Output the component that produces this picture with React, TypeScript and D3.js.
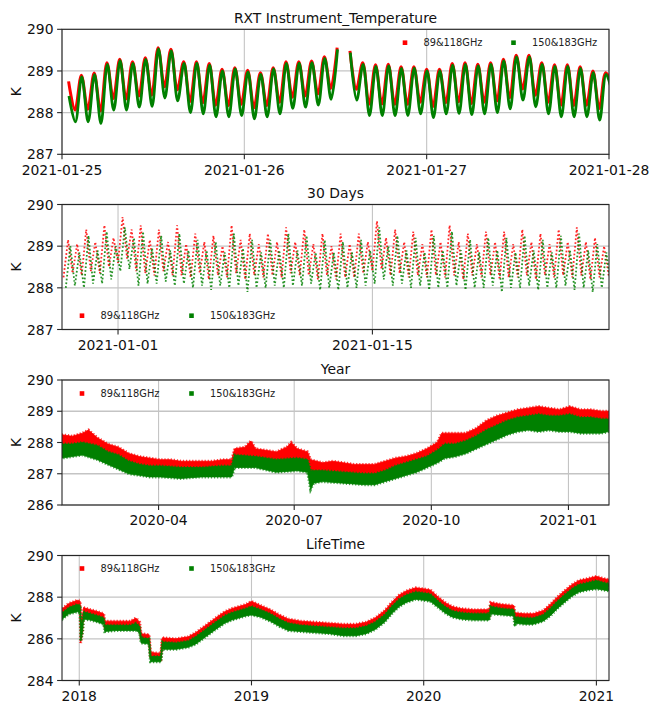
import React from "react";
import * as d3 from "d3";

const WIDTH = 650;
const HEIGHT = 704;
const PLOT_LEFT = 62;
const PLOT_RIGHT = 609;
const PLOT_H = 125;
const PANEL_TOPS = [29.3, 204.5, 380, 555.5];

const RED = "#ff0000";
const GREEN = "#008000";
const FONT = "'DejaVu Sans', sans-serif";

const SERIES_NAMES = ["89&118GHz", "150&183GHz"];
const PANEL_TITLES = ["RXT Instrument_Temperature", "30 Days", "Year", "LifeTime"];

// ---- Panel 1: three days, orbit-by-orbit extremes ----
const P1_DOMAIN = ["2021-01-25", "2021-01-28"];
const P1_TICKS = ["2021-01-25", "2021-01-26", "2021-01-27", "2021-01-28"];
const P1_RED_START = "2021-01-25T00:52:00Z";
const P1_GREEN_START = "2021-01-25T00:55:00Z";
const P1_HALF_ORBIT_MIN = 50.5;
const P1_RED_FIRST = 288.75;
const P1_RED_LAST = 288.7;
const P1_GREEN_FIRST = 288.4;
const P1_GREEN_LAST = 288.45;
const P1_RED_PEAKS = [
  288.9, 288.95, 289.2, 289.28, 289.22, 289.32, 289.56, 289.52, 289.22, 289.22,
  289.18, 289.04, 289.08, 289.02, 288.96, 289.08, 289.22, 289.22, 289.24, 289.34,
  289.56, 289.48, 289.2, 289.15, 289.16, 289.1, 289.1, 289.04, 289.04, 289.18,
  289.2, 289.16, 289.2, 289.28, 289.38, 289.38, 289.2, 289.15, 289.15, 289.1,
  289.0, 288.96,
];
const P1_RED_TROUGHS = [
  288.06, 288.08, 288.04, 288.34, 288.33, 288.4, 288.42, 288.62, 288.55, 288.27,
  288.24, 288.18, 288.17, 288.2, 288.12, 288.17, 288.25, 288.37, 288.4, 288.45,
  288.58, null, 288.56, 288.2, 288.21, 288.2, 288.2, 288.25, 288.15, 288.24,
  288.26, 288.22, 288.25, 288.28, 288.36, 288.57, 288.42, 288.25, 288.18, 288.17,
  288.18, 288.1,
];
const P1_GREEN_PEAKS = [
  288.86, 288.91, 289.16, 289.25, 289.18, 289.28, 289.53, 289.48, 289.18, 289.19,
  289.14, 289.0, 289.05, 288.98, 288.92, 289.05, 289.18, 289.19, 289.2, 289.3,
  289.52, 289.44, 289.16, 289.11, 289.12, 289.06, 289.07, 289.0, 289.0, 289.14,
  289.16, 289.12, 289.16, 289.24, 289.34, 289.34, 289.16, 289.11, 289.11, 289.06,
  288.96, 288.92,
];
const P1_GREEN_TROUGHS = [
  287.78, 287.78, 287.74, 288.06, 288.06, 288.13, 288.15, 288.35, 288.28, 288.0,
  287.97, 287.9, 287.9, 287.93, 287.85, 287.9, 287.97, 288.1, 288.13, 288.18,
  288.32, null, 288.3, 287.93, 287.93, 287.93, 287.93, 287.97, 287.88, 287.97,
  287.98, 287.95, 287.97, 288.0, 288.09, 288.3, 288.14, 287.97, 287.9, 287.9,
  287.9, 287.82,
];

// ---- Panel 2: thirty days, alternating low / high samples every 6 h ----
const P2_DOMAIN = ["2020-12-28T22:00:00Z", "2021-01-28T00:30:00Z"];
const P2_TICKS = ["2021-01-01", "2021-01-15"];
const P2_RED_START = "2020-12-29T00:00:00Z";
const P2_GREEN_START = "2020-12-29T03:00:00Z";
const P2_STEP_H = 6;
const P2_RED = [
  288.25, 289.15, 288.35, 289.05, 288.3, 289.4, 288.4, 289.1, 288.35, 289.5, 288.5, 289.2,
  288.6, 289.7, 288.7, 289.4, 288.4, 289.5, 288.35, 289.15, 288.3, 289.4, 288.4, 289.1,
  288.3, 289.5, 288.3, 289.05, 288.25, 289.3, 288.35, 289.1, 288.2, 289.25, 288.3, 289.0,
  288.25, 289.5, 288.35, 289.15, 288.2, 289.3, 288.3, 289.05, 288.25, 289.3, 288.3, 289.1,
  288.25, 289.45, 288.35, 289.1, 288.3, 289.4, 288.3, 289.05, 288.2, 289.3, 288.3, 289.0,
  288.2, 289.3, 288.25, 289.05, 288.25, 289.3, 288.35, 289.1, 288.4, 289.6, 288.45, 289.2,
  288.3, 289.4, 288.35, 289.1, 288.25, 289.35, 288.3, 289.05, 288.25, 289.4, 288.3, 289.1,
  288.25, 289.5, 288.3, 289.1, 288.2, 289.3, 288.3, 289.05, 288.25, 289.35, 288.3, 289.1,
  288.2, 289.35, 288.25, 289.05, 288.25, 289.4, 288.3, 289.1, 288.2, 289.3, 288.3, 289.05,
  288.25, 289.4, 288.3, 289.1, 288.25, 289.45, 288.3, 289.1, 288.2, 289.2, 288.25, 289.0,
  288.3,
];
const P2_GREEN = [
  288.0, 289.0, 288.05, 288.85, 288.0, 289.25, 288.1, 288.9, 288.1, 289.35, 288.2, 289.0,
  288.4, 289.45, 288.45, 289.2, 288.05, 289.35, 288.1, 288.95, 288.1, 289.25, 288.15, 288.9,
  288.05, 289.3, 288.1, 288.9, 288.0, 289.15, 288.05, 288.9, 287.95, 289.1, 288.05, 288.85,
  288.0, 289.3, 288.05, 288.95, 287.9, 289.15, 288.0, 288.85, 288.0, 289.15, 288.05, 288.9,
  288.0, 289.3, 288.05, 288.9, 288.05, 289.25, 288.1, 288.85, 287.95, 289.15, 288.0, 288.85,
  287.95, 289.1, 288.0, 288.85, 288.0, 289.15, 288.05, 288.9, 288.1, 289.45, 288.2, 289.0,
  288.05, 289.25, 288.1, 288.9, 288.0, 289.2, 288.05, 288.85, 287.95, 289.25, 288.0, 288.9,
  288.0, 289.35, 288.05, 288.9, 287.95, 289.15, 288.0, 288.85, 288.0, 289.2, 288.05, 288.9,
  287.9, 289.2, 288.0, 288.85, 288.0, 289.25, 288.05, 288.9, 287.95, 289.15, 288.0, 288.85,
  288.0, 289.25, 288.05, 288.9, 287.95, 289.3, 288.0, 288.9, 287.9, 289.05, 288.0, 288.85,
  288.05,
];

// ---- Panel 3: one year, [date, low, high] of each band ----
const P3_DOMAIN = ["2020-01-27T05:00:00Z", "2021-01-28T05:00:00Z"];
const P3_TICKS = ["2020-04-01", "2020-07-01", "2020-10-01", "2021-01-01"];
const P3_RED: [string, number, number][] = [
  ["2020-01-27", 287.75, 288.25], ["2020-02-03", 287.8, 288.2], ["2020-02-10", 287.85, 288.3],
  ["2020-02-14", 287.8, 288.4], ["2020-02-20", 287.7, 288.15], ["2020-02-27", 287.6, 287.95],
  ["2020-03-05", 287.45, 287.85], ["2020-03-12", 287.3, 287.65], ["2020-03-19", 287.2, 287.55],
  ["2020-03-26", 287.15, 287.5], ["2020-04-02", 287.1, 287.45], ["2020-04-09", 287.1, 287.45],
  ["2020-04-16", 287.1, 287.4], ["2020-04-23", 287.05, 287.4], ["2020-04-30", 287.1, 287.4],
  ["2020-05-07", 287.05, 287.4], ["2020-05-14", 287.1, 287.45], ["2020-05-20", 287.1, 287.45],
  ["2020-05-22", 287.45, 287.8], ["2020-05-29", 287.45, 287.85], ["2020-06-02", 287.4, 288.05],
  ["2020-06-05", 287.4, 287.8], ["2020-06-12", 287.35, 287.75], ["2020-06-19", 287.3, 287.7],
  ["2020-06-26", 287.35, 287.85], ["2020-06-29", 287.35, 288.0], ["2020-07-03", 287.35, 287.8],
  ["2020-07-10", 287.3, 287.7], ["2020-07-12", 286.9, 287.45], ["2020-07-20", 286.9, 287.35],
  ["2020-07-27", 286.95, 287.4], ["2020-08-03", 286.9, 287.35], ["2020-08-10", 286.85, 287.3],
  ["2020-08-17", 286.85, 287.3], ["2020-08-24", 286.85, 287.3], ["2020-08-31", 286.95, 287.4],
  ["2020-09-07", 287.05, 287.5], ["2020-09-14", 287.15, 287.55], ["2020-09-21", 287.25, 287.65],
  ["2020-09-28", 287.4, 287.8], ["2020-10-05", 287.6, 288.0], ["2020-10-08", 287.75, 288.3],
  ["2020-10-17", 287.8, 288.3], ["2020-10-24", 287.85, 288.3], ["2020-10-31", 288.0, 288.45],
  ["2020-11-07", 288.2, 288.7], ["2020-11-14", 288.35, 288.85], ["2020-11-21", 288.5, 288.95],
  ["2020-11-28", 288.55, 289.05], ["2020-12-05", 288.6, 289.1], ["2020-12-12", 288.6, 289.15],
  ["2020-12-19", 288.6, 289.1], ["2020-12-26", 288.55, 289.05], ["2021-01-02", 288.6, 289.15],
  ["2021-01-09", 288.55, 289.05], ["2021-01-16", 288.5, 289.05], ["2021-01-23", 288.5, 289.0],
  ["2021-01-28", 288.5, 289.0],
];
const P3_GREEN: [string, number, number][] = [
  ["2020-01-27", 287.5, 287.95], ["2020-02-03", 287.55, 287.95], ["2020-02-10", 287.6, 288.0],
  ["2020-02-20", 287.45, 287.9], ["2020-02-27", 287.3, 287.7], ["2020-03-05", 287.15, 287.6],
  ["2020-03-12", 287.0, 287.4], ["2020-03-19", 286.95, 287.3], ["2020-03-26", 286.9, 287.25],
  ["2020-04-02", 286.9, 287.25], ["2020-04-16", 286.85, 287.2], ["2020-04-30", 286.9, 287.2],
  ["2020-05-14", 286.9, 287.25], ["2020-05-20", 286.9, 287.25], ["2020-05-22", 287.2, 287.6],
  ["2020-06-05", 287.2, 287.55], ["2020-06-19", 287.05, 287.45], ["2020-07-03", 287.1, 287.5],
  ["2020-07-10", 287.05, 287.45], ["2020-07-12", 286.5, 287.1], ["2020-07-14", 286.7, 287.1],
  ["2020-07-20", 286.75, 287.1], ["2020-08-03", 286.7, 287.05], ["2020-08-17", 286.65, 287.0],
  ["2020-08-24", 286.65, 287.0], ["2020-08-31", 286.75, 287.1], ["2020-09-07", 286.85, 287.25],
  ["2020-09-14", 286.95, 287.35], ["2020-09-21", 287.05, 287.45], ["2020-09-28", 287.2, 287.55],
  ["2020-10-05", 287.35, 287.75], ["2020-10-10", 287.5, 287.95], ["2020-10-17", 287.55, 287.95],
  ["2020-10-24", 287.65, 288.05], ["2020-10-31", 287.8, 288.2], ["2020-11-07", 287.95, 288.4],
  ["2020-11-14", 288.1, 288.55], ["2020-11-21", 288.25, 288.7], ["2020-11-28", 288.35, 288.8],
  ["2020-12-05", 288.4, 288.85], ["2020-12-12", 288.35, 288.9], ["2020-12-19", 288.4, 288.85],
  ["2020-12-26", 288.35, 288.85], ["2021-01-02", 288.35, 288.9], ["2021-01-09", 288.3, 288.8],
  ["2021-01-16", 288.3, 288.8], ["2021-01-23", 288.3, 288.75], ["2021-01-28", 288.35, 288.75],
];

// ---- Panel 4: whole mission, [date, low, high] of each band ----
const P4_DOMAIN = ["2017-11-25T10:00:00Z", "2021-01-27T17:00:00Z"];
const P4_TICKS = ["2018-01-01", "2019-01-01", "2020-01-01", "2021-01-01"];
const P4_RED: [string, number, number][] = [
  ["2017-11-26", 287.15, 287.45], ["2017-12-10", 287.4, 287.7], ["2017-12-28", 287.5, 287.85],
  ["2018-01-03", 287.45, 287.8], ["2018-01-04", 285.8, 287.0], ["2018-01-08", 286.4, 287.0],
  ["2018-01-10", 287.15, 287.5], ["2018-01-25", 287.1, 287.4], ["2018-02-10", 287.0, 287.3],
  ["2018-02-22", 286.9, 287.2], ["2018-02-24", 286.5, 286.85], ["2018-03-20", 286.55, 286.85],
  ["2018-04-20", 286.55, 286.85], ["2018-05-01", 286.55, 287.0], ["2018-05-09", 286.45, 286.8],
  ["2018-05-12", 285.95, 286.25], ["2018-05-29", 285.9, 286.2], ["2018-06-01", 285.05, 285.35],
  ["2018-06-23", 285.0, 285.3], ["2018-06-26", 285.7, 286.05], ["2018-07-25", 285.7, 286.0],
  ["2018-08-20", 285.8, 286.1], ["2018-09-05", 285.95, 286.3], ["2018-09-20", 286.2, 286.55],
  ["2018-10-05", 286.45, 286.8], ["2018-10-20", 286.7, 287.05], ["2018-11-05", 286.95, 287.3],
  ["2018-11-20", 287.1, 287.45], ["2018-12-05", 287.2, 287.55], ["2018-12-20", 287.3, 287.65],
  ["2019-01-01", 287.35, 287.8], ["2019-01-20", 287.25, 287.6], ["2019-02-10", 287.05, 287.4],
  ["2019-03-01", 286.8, 287.15], ["2019-03-20", 286.6, 286.95], ["2019-04-15", 286.55, 286.85],
  ["2019-05-15", 286.5, 286.8], ["2019-06-15", 286.45, 286.75], ["2019-07-15", 286.35, 286.7],
  ["2019-08-10", 286.35, 286.7], ["2019-09-01", 286.45, 286.8], ["2019-09-20", 286.65, 287.0],
  ["2019-10-10", 287.0, 287.35], ["2019-10-25", 287.4, 287.75], ["2019-11-10", 287.75, 288.1],
  ["2019-11-25", 287.95, 288.3], ["2019-12-15", 288.1, 288.45], ["2020-01-01", 288.05, 288.4],
  ["2020-01-15", 288.0, 288.35], ["2020-02-01", 287.7, 288.0], ["2020-02-15", 287.45, 287.75],
  ["2020-03-01", 287.25, 287.55], ["2020-03-20", 287.15, 287.45], ["2020-04-15", 287.1, 287.4],
  ["2020-05-19", 287.1, 287.4], ["2020-05-22", 287.4, 287.75], ["2020-06-15", 287.35, 287.65],
  ["2020-07-10", 287.3, 287.6], ["2020-07-12", 286.9, 287.25], ["2020-08-01", 286.9, 287.2],
  ["2020-08-20", 286.9, 287.2], ["2020-09-10", 287.05, 287.35], ["2020-09-25", 287.3, 287.65],
  ["2020-10-10", 287.65, 288.0], ["2020-10-25", 287.95, 288.3], ["2020-11-10", 288.25, 288.6],
  ["2020-11-25", 288.45, 288.8], ["2020-12-15", 288.55, 288.9], ["2021-01-01", 288.6, 289.0],
  ["2021-01-15", 288.55, 288.9], ["2021-01-27", 288.5, 288.85],
];
const P4_GREEN: [string, number, number][] = [
  ["2017-11-26", 286.95, 287.25], ["2017-12-10", 287.2, 287.5], ["2017-12-28", 287.3, 287.65],
  ["2018-01-03", 287.25, 287.6], ["2018-01-04", 285.9, 286.8], ["2018-01-08", 286.3, 286.8],
  ["2018-01-10", 286.95, 287.3], ["2018-01-25", 286.9, 287.2], ["2018-02-10", 286.8, 287.1],
  ["2018-02-22", 286.7, 287.0], ["2018-02-24", 286.35, 286.65], ["2018-03-20", 286.4, 286.65],
  ["2018-04-20", 286.4, 286.65], ["2018-05-01", 286.4, 286.75], ["2018-05-09", 286.3, 286.6],
  ["2018-05-12", 285.8, 286.05], ["2018-05-29", 285.75, 286.0], ["2018-06-01", 284.9, 285.15],
  ["2018-06-23", 284.9, 285.15], ["2018-06-26", 285.5, 285.85], ["2018-07-25", 285.5, 285.8],
  ["2018-08-20", 285.6, 285.9], ["2018-09-05", 285.75, 286.1], ["2018-09-20", 286.0, 286.35],
  ["2018-10-05", 286.25, 286.6], ["2018-10-20", 286.5, 286.85], ["2018-11-05", 286.75, 287.1],
  ["2018-11-20", 286.9, 287.25], ["2018-12-05", 287.0, 287.35], ["2018-12-20", 287.1, 287.45],
  ["2019-01-01", 287.15, 287.55], ["2019-01-20", 287.05, 287.4], ["2019-02-10", 286.85, 287.2],
  ["2019-03-01", 286.6, 286.95], ["2019-03-20", 286.4, 286.75], ["2019-04-15", 286.35, 286.65],
  ["2019-05-15", 286.3, 286.6], ["2019-06-15", 286.25, 286.55], ["2019-07-15", 286.15, 286.5],
  ["2019-08-10", 286.15, 286.5], ["2019-09-01", 286.25, 286.6], ["2019-09-20", 286.45, 286.8],
  ["2019-10-10", 286.8, 287.15], ["2019-10-25", 287.2, 287.55], ["2019-11-10", 287.55, 287.9],
  ["2019-11-25", 287.75, 288.1], ["2019-12-15", 287.9, 288.25], ["2020-01-01", 287.85, 288.2],
  ["2020-01-15", 287.8, 288.15], ["2020-02-01", 287.5, 287.8], ["2020-02-15", 287.25, 287.55],
  ["2020-03-01", 287.05, 287.35], ["2020-03-20", 286.95, 287.25], ["2020-04-15", 286.9, 287.2],
  ["2020-05-19", 286.9, 287.2], ["2020-05-22", 287.2, 287.55], ["2020-06-15", 287.15, 287.45],
  ["2020-07-10", 287.1, 287.4], ["2020-07-12", 286.6, 287.05], ["2020-07-14", 286.75, 287.05],
  ["2020-08-01", 286.7, 287.0], ["2020-08-20", 286.7, 287.0], ["2020-09-10", 286.85, 287.15],
  ["2020-09-25", 287.1, 287.45], ["2020-10-10", 287.45, 287.8], ["2020-10-25", 287.75, 288.1],
  ["2020-11-10", 288.05, 288.4], ["2020-11-25", 288.25, 288.6], ["2020-12-15", 288.35, 288.7],
  ["2021-01-01", 288.4, 288.8], ["2021-01-15", 288.35, 288.7], ["2021-01-27", 288.3, 288.65],
];

const P1_Y = [287, 290];
const P2_Y = [287, 290];
const P3_Y = [286, 290];
const P4_Y = [284, 290];
const P1_Y_TICKS = [287, 288, 289, 290];
const P2_Y_TICKS = [287, 288, 289, 290];
const P3_Y_TICKS = [286, 287, 288, 289, 290];
const P4_Y_TICKS = [284, 286, 288, 290];

type Pt = { t: Date; v: number | null };
type Band = { t: Date; lo: number; hi: number };

const toDate = (s: string) => new Date(s.length <= 10 ? s + "T00:00:00Z" : s);

function orbitSeries(start: string, first: number, troughs: (number | null)[], peaks: number[], last: number): Pt[] {
  const vals: (number | null)[] = [first];
  peaks.forEach((p, i) => {
    vals.push(troughs[i]);
    vals.push(p);
  });
  vals.push(last);
  const t0 = toDate(start).getTime();
  return vals.map((v, i) => ({ t: new Date(t0 + i * P1_HALF_ORBIT_MIN * 60000), v }));
}

function stepSeries(start: string, values: number[]): Pt[] {
  const t0 = toDate(start).getTime();
  return values.map((v, i) => ({ t: new Date(t0 + i * P2_STEP_H * 3600000), v }));
}

const bands = (rows: [string, number, number][]): Band[] => rows.map(([d, lo, hi]) => ({ t: toDate(d), lo, hi }));

type PanelProps = {
  idx: number;
  xDomain: string[];
  xTicks: string[];
  xFormat: (d: Date) => string;
  yDomain: number[];
  yTicks: number[];
  legend: { x: number; y: number; gap: number };
  render: (x: d3.ScaleTime<number, number>, y: d3.ScaleLinear<number, number>) => React.ReactNode;
};

function Panel({ idx, xDomain, xTicks, xFormat, yDomain, yTicks, legend, render }: PanelProps) {
  const top = PANEL_TOPS[idx];
  const bottom = top + PLOT_H;
  const x = d3.scaleUtc().domain(xDomain.map(toDate)).range([PLOT_LEFT, PLOT_RIGHT]);
  const y = d3.scaleLinear().domain(yDomain).range([bottom, top]);
  const tickDates = xTicks.map(toDate);
  const clipId = `plot-clip-${idx}`;
  const gridColor = "#c4c4c4";
  return (
    <g>
      <defs>
        <clipPath id={clipId}>
          <rect x={PLOT_LEFT} y={top} width={PLOT_RIGHT - PLOT_LEFT} height={PLOT_H} />
        </clipPath>
      </defs>
      {tickDates.map((d, i) => (
        <line key={"gx" + i} x1={x(d)} x2={x(d)} y1={top} y2={bottom} stroke={gridColor} strokeWidth={1.1} />
      ))}
      {yTicks.map((v, i) => (
        <line key={"gy" + i} x1={PLOT_LEFT} x2={PLOT_RIGHT} y1={y(v)} y2={y(v)} stroke={gridColor} strokeWidth={1.3} />
      ))}
      <g clipPath={`url(#${clipId})`}>{render(x, y)}</g>
      <rect x={PLOT_LEFT} y={top} width={PLOT_RIGHT - PLOT_LEFT} height={PLOT_H} fill="none" stroke="#262626" strokeWidth={1.1} />
      {tickDates.map((d, i) => (
        <g key={"tx" + i}>
          <line x1={x(d)} x2={x(d)} y1={bottom} y2={bottom + 4.9} stroke="#262626" strokeWidth={1.1} />
          <text x={x(d)} y={bottom + 9.7} dy="0.76em" textAnchor="middle" fontSize={13.9} fontFamily={FONT} fill="#111">
            {xFormat(d)}
          </text>
        </g>
      ))}
      {yTicks.map((v, i) => (
        <g key={"ty" + i}>
          <line x1={PLOT_LEFT - 4.9} x2={PLOT_LEFT} y1={y(v)} y2={y(v)} stroke="#262626" strokeWidth={1.1} />
          <text x={PLOT_LEFT - 8.5} y={y(v)} dy="0.36em" textAnchor="end" fontSize={13.9} fontFamily={FONT} fill="#111">
            {v}
          </text>
        </g>
      ))}
      <text x={(PLOT_LEFT + PLOT_RIGHT) / 2} y={top - 6.5} textAnchor="middle" fontSize={13.9} fontFamily={FONT} fill="#111">
        {PANEL_TITLES[idx]}
      </text>
      <text
        transform={`translate(${21},${(top + bottom) / 2}) rotate(-90)`}
        textAnchor="middle"
        fontSize={13.9}
        fontFamily={FONT}
        fill="#111"
      >
        K
      </text>
      {SERIES_NAMES.map((name, i) => (
        <g key={"lg" + i}>
          <rect
            x={legend.x + i * legend.gap - 2.3}
            y={legend.y - 2.3}
            width={4.6}
            height={4.6}
            fill={i === 0 ? RED : GREEN}
          />
          <text x={legend.x + i * legend.gap + 18.5} y={legend.y} dy="0.35em" fontSize={9.8} fontFamily={FONT} fill="#222">
            {name}
          </text>
        </g>
      ))}
    </g>
  );
}

export default function App() {
  const p1Red = orbitSeries(P1_RED_START, P1_RED_FIRST, P1_RED_TROUGHS, P1_RED_PEAKS, P1_RED_LAST);
  const p1Green = orbitSeries(P1_GREEN_START, P1_GREEN_FIRST, P1_GREEN_TROUGHS, P1_GREEN_PEAKS, P1_GREEN_LAST);
  const p2Red = stepSeries(P2_RED_START, P2_RED);
  const p2Green = stepSeries(P2_GREEN_START, P2_GREEN);
  const p3Red = bands(P3_RED);
  const p3Green = bands(P3_GREEN);
  const p4Red = bands(P4_RED);
  const p4Green = bands(P4_GREEN);

  const fmtDay = d3.utcFormat("%Y-%m-%d");
  const fmtMonth = d3.utcFormat("%Y-%m");
  const fmtYear = d3.utcFormat("%Y");

  const orbitPath = (x: d3.ScaleTime<number, number>, y: d3.ScaleLinear<number, number>, pts: Pt[]) =>
    d3
      .line<Pt>()
      .defined((d) => d.v != null)
      .x((d) => x(d.t))
      .y((d) => y(d.v as number))
      .curve(d3.curveCatmullRom.alpha(0.5))(pts) ?? "";

  const zigzagPath = (x: d3.ScaleTime<number, number>, y: d3.ScaleLinear<number, number>, pts: Pt[]) =>
    d3
      .line<Pt>()
      .x((d) => x(d.t))
      .y((d) => y(d.v as number))(pts) ?? "";

  const bandPath = (x: d3.ScaleTime<number, number>, y: d3.ScaleLinear<number, number>, rows: Band[]) =>
    d3
      .area<Band>()
      .x((d) => x(d.t))
      .y0((d) => y(d.lo))
      .y1((d) => y(d.hi))(rows) ?? "";

  // dense scatter bands: solid fill plus a speckled outline
  const scatterBand = (x: d3.ScaleTime<number, number>, y: d3.ScaleLinear<number, number>, rows: Band[], color: string) => {
    const d = bandPath(x, y, rows);
    return (
      <>
        <path d={d} fill={color} stroke={color} strokeWidth={0.8} />
        <path d={d} fill="none" stroke={color} strokeWidth={3} strokeDasharray="1.2 1.9" strokeOpacity={0.75} />
      </>
    );
  };

  return (
    <svg
      width={WIDTH}
      height={HEIGHT}
      viewBox={`0 0 ${WIDTH} ${HEIGHT}`}
      style={{ position: "absolute", left: 0, top: 0, background: "#fff" }}
    >
      <rect x={0} y={0} width={WIDTH} height={HEIGHT} fill="#fff" />
      <Panel
        idx={0}
        xDomain={P1_DOMAIN}
        xTicks={P1_TICKS}
        xFormat={fmtDay}
        yDomain={P1_Y}
        yTicks={P1_Y_TICKS}
        legend={{ x: 405, y: 42.7, gap: 108.5 }}
        render={(x, y) => (
          <>
            <path d={orbitPath(x, y, p1Red)} fill="none" stroke={RED} strokeWidth={3} strokeLinejoin="round" />
            <path d={orbitPath(x, y, p1Green)} fill="none" stroke={GREEN} strokeWidth={2.8} strokeLinejoin="round" />
          </>
        )}
      />
      <Panel
        idx={1}
        xDomain={P2_DOMAIN}
        xTicks={P2_TICKS}
        xFormat={fmtDay}
        yDomain={P2_Y}
        yTicks={P2_Y_TICKS}
        legend={{ x: 82, y: 315.7, gap: 109.5 }}
        render={(x, y) => (
          <>
            <path d={zigzagPath(x, y, p2Red)} fill="none" stroke={RED} strokeOpacity={0.85} strokeWidth={1.8} strokeDasharray="1.7 2.1" />
            <path d={zigzagPath(x, y, p2Green)} fill="none" stroke={GREEN} strokeOpacity={0.85} strokeWidth={1.8} strokeDasharray="1.7 2.1" />
          </>
        )}
      />
      <Panel
        idx={2}
        xDomain={P3_DOMAIN}
        xTicks={P3_TICKS}
        xFormat={fmtMonth}
        yDomain={P3_Y}
        yTicks={P3_Y_TICKS}
        legend={{ x: 82, y: 393.5, gap: 109.5 }}
        render={(x, y) => (
          <>
            {scatterBand(x, y, p3Red, RED)}
            {scatterBand(x, y, p3Green, GREEN)}
          </>
        )}
      />
      <Panel
        idx={3}
        xDomain={P4_DOMAIN}
        xTicks={P4_TICKS}
        xFormat={fmtYear}
        yDomain={P4_Y}
        yTicks={P4_Y_TICKS}
        legend={{ x: 82, y: 568.5, gap: 109.5 }}
        render={(x, y) => (
          <>
            {scatterBand(x, y, p4Red, RED)}
            {scatterBand(x, y, p4Green, GREEN)}
          </>
        )}
      />
    </svg>
  );
}
